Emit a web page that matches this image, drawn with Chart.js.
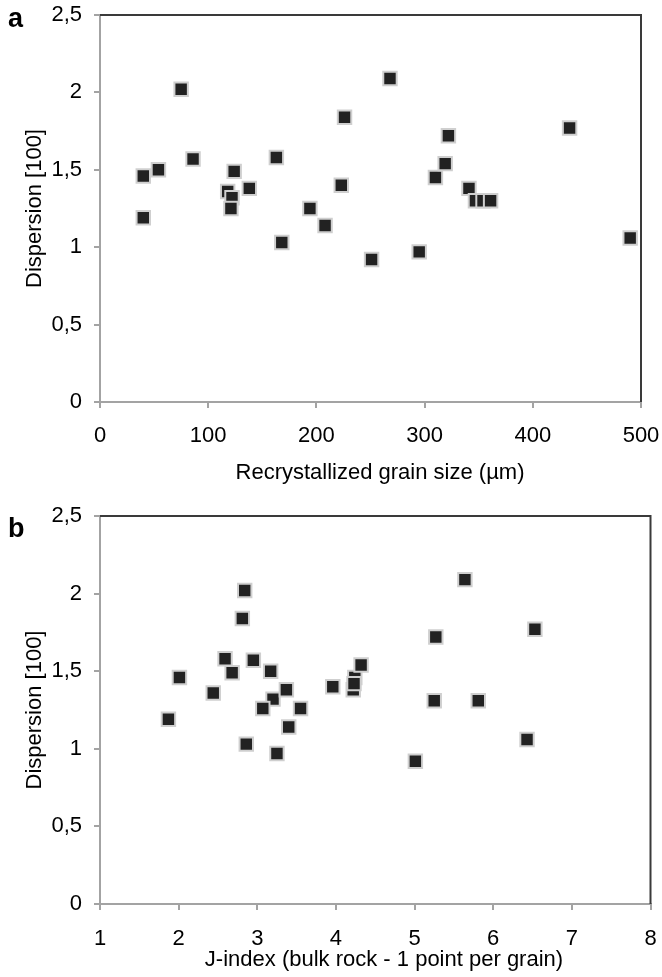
<!DOCTYPE html>
<html>
<head>
<meta charset="utf-8">
<script src="https://cdn.jsdelivr.net/npm/chart.js@4/dist/chart.umd.min.js"></script>
<style>
body { margin: 0; background: #fff; width: 662px; height: 977px; position: relative; overflow: hidden; font-family: "Liberation Sans", Arial, sans-serif; }
.panel { position: absolute; left: 0; }
.tag { position: absolute; font-weight: bold; font-size: 27px; line-height: 1; color: #000; }
.xtitle { position: absolute; width: 500px; text-align: center; font-size: 22px; line-height: 22px; color: #000; white-space: nowrap; }
</style>
</head>
<body>
<canvas id="chartA" class="panel" style="top:0" width="662" height="490"></canvas>
<canvas id="chartB" class="panel" style="top:490px" width="662" height="487"></canvas>
<div class="tag" style="left:8px; top:5px">a</div>
<div class="tag" style="left:8px; top:515px">b</div>
<div class="xtitle" style="left:130px; top:461px">Recrystallized grain size (µm)</div>
<div class="xtitle" style="left:134px; top:948px">J-index (bulk rock - 1 point per grain)</div>
<script>
// panel a: recrystallized grain size vs dispersion
let grainSize = [40, 40, 54, 75, 86, 118, 122, 121, 124, 138, 163, 168, 194, 208, 223, 226, 251, 268, 295, 310, 319, 322, 341, 347, 354, 361, 434, 490];
let dispersionA = [1.19, 1.46, 1.50, 2.02, 1.57, 1.36, 1.32, 1.25, 1.49, 1.38, 1.58, 1.03, 1.25, 1.14, 1.40, 1.84, 0.92, 2.09, 0.97, 1.45, 1.54, 1.72, 1.38, 1.30, 1.30, 1.30, 1.77, 1.06];

// panel b: J-index vs dispersion
let jIndex = [1.87, 2.01, 3.17, 2.84, 2.95, 2.44, 3.20, 3.07, 2.68, 3.37, 2.59, 2.86, 3.55, 3.40, 3.96, 2.81, 5.01, 5.64, 3.25, 4.24, 4.32, 5.27, 4.22, 5.25, 5.81, 4.23, 6.53, 6.43];
let dispersionB = [1.19, 1.46, 1.50, 2.02, 1.57, 1.36, 1.32, 1.26, 1.49, 1.38, 1.58, 1.03, 1.26, 1.14, 1.40, 1.84, 0.92, 2.09, 0.97, 1.46, 1.54, 1.72, 1.38, 1.31, 1.31, 1.42, 1.77, 1.06];

let yTickLabels = ["0", "0,5", "1", "1,5", "2", "2,5"];

const FONT = { family: "'Liberation Sans', Arial, sans-serif", size: 22 };
const AXIS_GREY = "#a3a3a3";

// dark top and right edge of the plot box
const frame = {
    id: "frame",
    beforeDatasetsDraw(chart) {
        const a = chart.chartArea;
        const ctx = chart.ctx;
        ctx.save();
        ctx.strokeStyle = "#3a3a3a";
        ctx.lineWidth = 2;
        ctx.beginPath();
        ctx.moveTo(a.left, a.top);
        ctx.lineTo(a.right, a.top);
        ctx.lineTo(a.right, a.bottom);
        ctx.stroke();
        ctx.restore();
    }
};

function makeChart(id, xs, ys, opts) {
    let points = xs.map((x, i) => ({ x: x, y: ys[i] }));
    let config = {
        type: "scatter",
        data: {
            datasets: [{
                data: points,
                pointStyle: "rect",
                pointRadius: 9.5,
                backgroundColor: "#222222",
                borderColor: "#cfcfcf",
                borderWidth: 2
            }]
        },
        options: {
            responsive: false,
            animation: false,
            layout: { padding: { left: 0, right: opts.padRight, top: opts.padTop, bottom: 0 } },
            plugins: { legend: { display: false }, tooltip: { enabled: false } },
            scales: {
                x: {
                    type: "linear",
                    min: opts.xMin,
                    max: opts.xMax,
                    afterFit: s => { s.height = opts.xHeight; s.paddingLeft = 0; s.paddingRight = 0; },
                    border: { display: true, color: AXIS_GREY, width: 2 },
                    grid: { drawOnChartArea: false, drawTicks: true, tickLength: 6, color: AXIS_GREY, lineWidth: 2 },
                    ticks: { stepSize: opts.xStep, padding: opts.xTickPad, color: "#000", font: FONT, maxRotation: 0 },
                    title: { display: false }
                },
                y: {
                    min: 0,
                    max: 2.5,
                    afterFit: s => { s.width = 100; s.paddingTop = 0; s.paddingBottom = 0; },
                    border: { display: true, color: AXIS_GREY, width: 2 },
                    grid: { drawOnChartArea: false, drawTicks: true, tickLength: 6, color: AXIS_GREY, lineWidth: 2 },
                    ticks: { stepSize: 0.5, padding: 12, color: "#000", font: FONT, callback: (v, i) => yTickLabels[i] },
                    title: { display: true, text: "Dispersion [100]", color: "#000", font: FONT, padding: { top: 22, bottom: 0 } }
                }
            }
        },
        plugins: [frame]
    };
    let ctx = document.getElementById(id).getContext("2d");
    return new Chart(ctx, config);
}

makeChart("chartA", grainSize, dispersionA, {
    xMin: 0, xMax: 500, xStep: 100,
    padTop: 15, padRight: 21,
    xHeight: 88, xTickPad: 15
});

makeChart("chartB", jIndex, dispersionB, {
    xMin: 1, xMax: 8, xStep: 1,
    padTop: 26, padRight: 9,
    xHeight: 73, xTickPad: 16
});
</script>
</body>
</html>
